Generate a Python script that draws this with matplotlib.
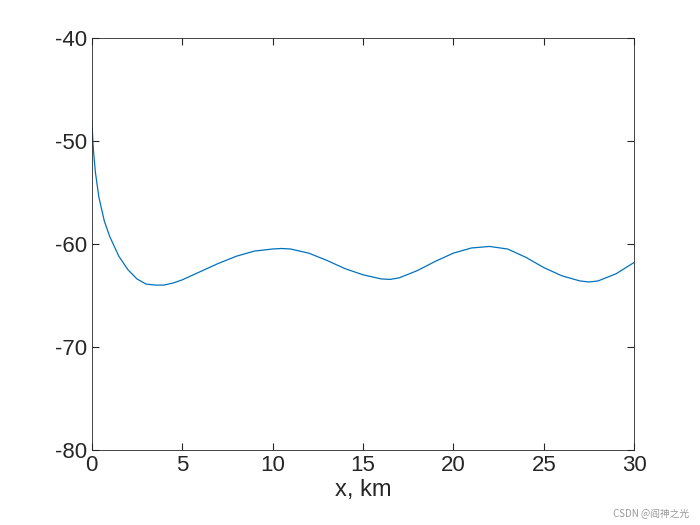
import matplotlib.pyplot as plt

plt.rcParams['font.family'] = ['Arial', 'Liberation Sans', 'DejaVu Sans']
plt.rcParams['axes.unicode_minus'] = False

# distance (km) and level
x_km = [0, 0.1, 0.2, 0.4, 0.7, 1.0, 1.5, 2.0, 2.5, 3.0, 3.5, 4.0, 4.5, 5, 6, 7, 8, 9,
        10, 10.5, 11, 12, 13, 14, 15, 16, 16.5, 17, 18, 19, 20, 21, 22, 23, 24, 25,
        26, 27, 27.5, 28, 29, 30]
level = [-48, -51, -53, -55.5, -57.8, -59.3, -61.2, -62.5, -63.4, -63.9, -64.0, -64.0,
         -63.8, -63.5, -62.7, -61.9, -61.2, -60.7, -60.5, -60.45, -60.5, -60.9, -61.6,
         -62.4, -63.0, -63.4, -63.45, -63.3, -62.6, -61.7, -60.9, -60.4, -60.25, -60.5,
         -61.3, -62.3, -63.1, -63.6, -63.7, -63.6, -62.9, -61.8]

fig = plt.figure(figsize=(7, 5.25), dpi=100)
ax = fig.add_axes([0.131, 0.143, 0.775, 0.785])
ax.plot(x_km, level, color='#0072BD', lw=0.9)

ax.set_xlim(0, 30)
ax.set_ylim(-80, -40)
ax.set_xticks(range(0, 31, 5))
ax.set_yticks(range(-80, -39, 10))
ax.tick_params(direction='in', top=True, right=True, labelsize=16, colors='#262626', length=5)
ax.set_xlabel('x, km', fontsize=17, color='#262626', labelpad=2)
for s in ax.spines.values():
    s.set_linewidth(0.6)
    s.set_color('#262626')

fig.text(0.985, 0.012, 'CSDN @阎神之光', ha='right', va='bottom', fontsize=7, color='#999999',
         family=['Noto Sans CJK SC', 'DejaVu Sans'])

fig.savefig('out.png', dpi=100)
